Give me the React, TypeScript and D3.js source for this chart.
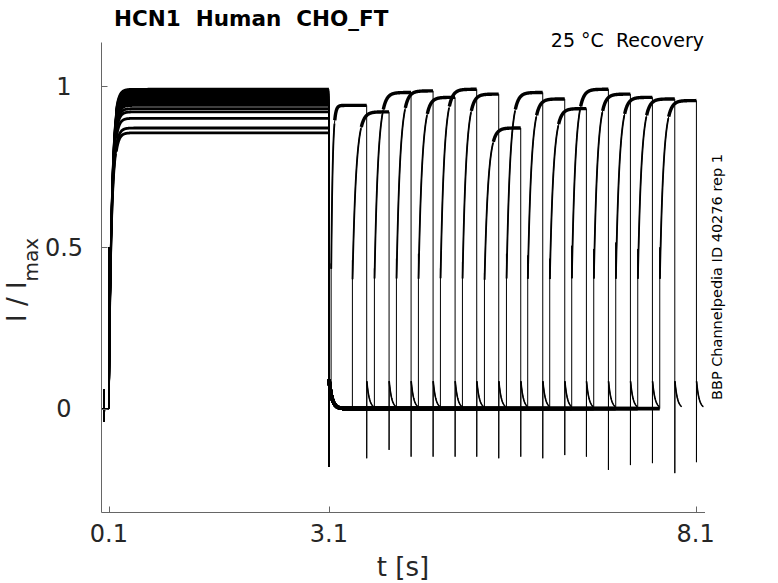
import React, { useMemo } from 'react';
import * as d3 from 'd3';

const W = 778;
const H = 583;

// ---- text ----
const titleText = 'HCN1  Human  CHO_FT';
const conditionText = '25 °C  Recovery';
const sideText = 'BBP Channelpedia ID 40276 rep 1';
const xLabel = 't [s]';

// ---- axis ticks ----
const xTickValues = [0.1, 3.1, 8.1];
const xTickLabels = ['0.1', '3.1', '8.1'];
const yTickValues = [0, 0.5, 1];
const yTickLabels = ['0', '0.5', '1'];

// ---- protocol timing (s) ----
const actOnset = 0.1;
const actOffset = 3.1;
const sweepTail = 0.095;

// ---- per-sweep values (16 sweeps) ----
const activationLevel = [0.93, 0.9, 0.97, 0.98, 0.95, 0.99, 0.96, 0.855, 0.975, 0.945, 0.87, 0.985, 0.965, 0.955, 0.94, 0.92];
const reactStart = [3.13, 3.42, 3.72, 4.02, 4.32, 4.62, 4.92, 5.22, 5.52, 5.81, 6.11, 6.41, 6.71, 7.01, 7.31, 7.61];
const reactEnd = [3.615, 3.92, 4.22, 4.52, 4.82, 5.115, 5.415, 5.715, 6.015, 6.315, 6.61, 6.91, 7.21, 7.51, 7.815, 8.11];
const reactLevel = [0.94, 0.92, 0.98, 0.985, 0.965, 0.99, 0.975, 0.87, 0.98, 0.96, 0.93, 0.99, 0.975, 0.965, 0.96, 0.955];
const reactTau = [0.02, 0.05, 0.05, 0.05, 0.05, 0.05, 0.05, 0.05, 0.05, 0.05, 0.05, 0.05, 0.05, 0.05, 0.05, 0.05];
const onsetSpike = [0.45, 0.46, 0.435, 0.465, 0.48, 0.435, 0.455, 0.42, 0.48, 0.475, 0.465, 0.505, 0.495, 0.515, 0.495, 0.5];
const offSpike = [-0.154, -0.128, -0.149, -0.149, -0.149, -0.149, -0.154, -0.149, -0.154, -0.144, -0.149, -0.19, -0.175, -0.169, -0.2, -0.166];

// ---- kinetics ----
const actTau = 0.038;
const actSpike = 0.5;
const deactSpike = -0.18;
const deactTail = 0.09;
const deactTau = 0.04;
const reactJump = 0.38;
const offTail = 0.085;
const offTau = 0.035;
const preArtifact = [0.06, -0.04];

type P = { t: number; v: number; seg: number };

function buildSweep(k: number): P[] {
  const pts: P[] = [];
  const dt = 0.004;
  const A = activationLevel[k];
  const s = reactStart[k];
  const e = reactEnd[k];
  const R = reactLevel[k];
  const tau = reactTau[k];
  pts.push({ t: 0.002, v: 0, seg: 0 });
  pts.push({ t: 0.033, v: 0, seg: 0 });
  pts.push({ t: 0.035, v: preArtifact[0], seg: 0 });
  pts.push({ t: 0.038, v: preArtifact[1], seg: 0 });
  pts.push({ t: 0.042, v: 0, seg: 0 });
  pts.push({ t: actOnset, v: 0, seg: 0 });
  pts.push({ t: actOnset + 0.0005, v: actSpike, seg: 0 });
  for (let t = actOnset + 0.002; t < actOffset; t += dt) {
    const v = A * (1 - Math.exp(-(t - actOnset) / actTau));
    pts.push({ t, v, seg: t - actOnset < 0.1 ? 1 : 2 });
  }
  pts.push({ t: actOffset, v: A, seg: 2 });
  pts.push({ t: actOffset + 0.0005, v: deactSpike, seg: 0 });
  for (let t = actOffset + 0.002; t < s; t += dt) {
    const v = deactTail * Math.exp(-(t - actOffset - 0.002) / deactTau);
    pts.push({ t, v, seg: 3 });
  }
  pts.push({ t: s, v: deactTail * Math.exp(-(s - actOffset - 0.002) / deactTau), seg: 3 });
  pts.push({ t: s + 0.0005, v: onsetSpike[k], seg: 0 });
  for (let t = s + 0.002; t < e; t += dt) {
    const v = R - (R - reactJump) * Math.exp(-(t - s) / tau);
    pts.push({ t, v, seg: t - s < 2.4 * tau ? 4 : 5 });
  }
  pts.push({ t: e, v: R, seg: 5 });
  pts.push({ t: e + 0.0005, v: offSpike[k], seg: 0 });
  for (let t = e + 0.002; t <= e + sweepTail; t += dt) {
    const v = offTail * Math.exp(-(t - e - 0.002) / offTau);
    pts.push({ t, v, seg: 6 });
  }
  return pts;
}

const segWidth: Record<number, number> = { 1: 1.8, 2: 2.8, 3: 3.6, 4: 1.8, 5: 3.4, 6: 1.6 };

const pre: React.CSSProperties = { whiteSpace: 'pre' };

export default function App() {
  const x = d3.scaleLinear().domain([0, 8.227]).range([101.5, 705]);
  const y = d3.scaleLinear().domain([-0.322, 1.135]).range([512.5, 42.5]);

  const sweeps = useMemo(() => d3.range(activationLevel.length).map(buildSweep), []);
  const line = d3
    .line<P>()
    .x((d) => x(d.t))
    .y((d) => y(d.v));

  const segIds = [1, 2, 3, 4, 5, 6];

  return (
    <svg
      width={W}
      height={H}
      style={{ position: 'absolute', left: 0, top: 0, display: 'block', background: '#fff' }}
      fontFamily="DejaVu Sans"
    >
      <rect x={0} y={0} width={W} height={H} fill="#fff" />
      {/* traces */}
      <g fill="none" stroke="#000" strokeLinejoin="round" strokeLinecap="butt">
        {sweeps.map((pts, k) => (
          <path key={'full' + k} d={line(pts) || ''} strokeWidth={1} />
        ))}
        {sweeps.map((pts, k) =>
          segIds.map((sid) => {
            const sub = pts.filter((p) => p.seg === sid);
            if (sub.length < 2) return null;
            return <path key={'s' + k + '_' + sid} d={line(sub) || ''} strokeWidth={segWidth[sid]} />;
          })
        )}
      </g>

      {/* axes */}
      <g stroke="#666" strokeWidth={1} fill="none">
        <line x1={101.5} x2={101.5} y1={42.5} y2={512.5} />
        <line x1={101.5} x2={705} y1={512.5} y2={512.5} />
        {xTickValues.map((v) => (
          <line key={'xt' + v} x1={Math.round(x(v)) + 0.5} x2={Math.round(x(v)) + 0.5} y1={512.5} y2={506.5} />
        ))}
        {yTickValues.map((v) => (
          <line key={'yt' + v} x1={101.5} x2={107.5} y1={Math.round(y(v)) + 0.5} y2={Math.round(y(v)) + 0.5} />
        ))}
      </g>
      <g fill="#262626" fontSize={24}>
        {xTickValues.map((v, i) => (
          <text key={'xl' + v} x={x(v)} y={542} textAnchor="middle">
            {xTickLabels[i]}
          </text>
        ))}
        {yTickValues.map((v, i) => (
          <text key={'yl' + v} x={64} y={y(v) + 8.5} textAnchor="middle">
            {yTickLabels[i]}
          </text>
        ))}
      </g>

      {/* axis labels */}
      <text x={403} y={575.5} textAnchor="middle" fontSize={26} fill="#262626" style={pre}>
        {xLabel}
      </text>
      <text transform="translate(26,322) rotate(-90)" fontSize={26} fill="#262626" style={pre}>
        <tspan>I / I</tspan>
        <tspan fontSize={20} dy={12}>
          max
        </tspan>
      </text>

      {/* title and annotations */}
      <text x={114} y={26} fontSize={21.5} fontWeight="bold" fill="#000" style={pre}>
        {titleText}
      </text>
      <text x={704} y={46.5} fontSize={19} textAnchor="end" fill="#000" style={pre}>
        {conditionText}
      </text>
      <text transform="translate(721.5,277) rotate(-90)" fontSize={14.5} textAnchor="middle" fill="#000" style={pre}>
        {sideText}
      </text>
    </svg>
  );
}
